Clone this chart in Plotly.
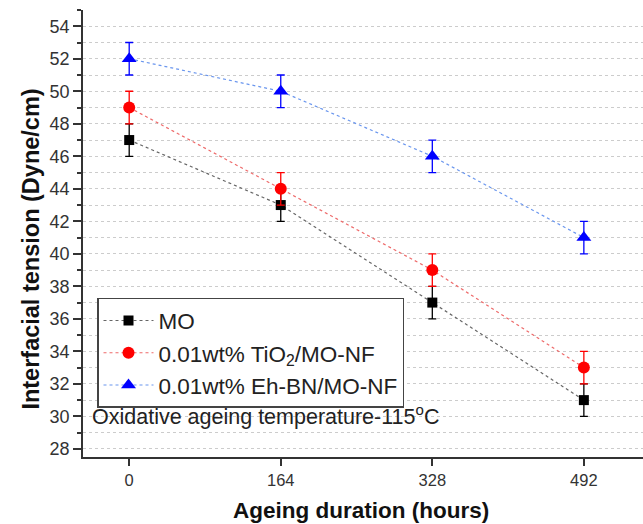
import plotly.graph_objects as go

# Ageing durations (hours)
hours = [0, 164, 328, 492]

# Interfacial tension (Dyne/cm) for each oil sample
mo = [47, 43, 37, 31]
tio2 = [49, 44, 39, 33]
ehbn = [52, 50, 46, 41]

# Error bar half-widths
mo_err = [1, 1, 1, 1]
tio2_err = [1, 1, 1, 1]
ehbn_err = [1, 1, 1, 1]

x_ticks = [0, 164, 328, 492]
y_ticks = list(range(28, 55, 2))

series = [
    ("MO", mo, mo_err, "#000000", "#666666", "square", 10),
    ("0.01wt% TiO<sub>2</sub>/MO-NF", tio2, tio2_err, "#ff0000", "#ee6a6a", "circle", 12),
    ("0.01wt% Eh-BN/MO-NF", ehbn, ehbn_err, "#0000ff", "#6a96ee", "triangle-up", 13),
]

fig = go.Figure()
for name, vals, err, mcol, lcol, sym, size in series:
    fig.add_trace(go.Scatter(
        x=hours, y=vals, name=name, mode="lines+markers",
        line=dict(color=lcol, width=1.2, dash="dot"),
        marker=dict(symbol=sym, size=size, color=mcol, line=dict(width=0)),
        error_y=dict(type="data", array=err, visible=True,
                     color=mcol, thickness=1.3, width=4),
    ))

font_family = "Arial, Liberation Sans, sans-serif"

fig.update_layout(
    width=643, height=524,
    margin=dict(l=83, r=0, t=10, b=67),
    paper_bgcolor="white", plot_bgcolor="white",
    font=dict(family=font_family, color="#222222"),
    showlegend=True,
    legend=dict(
        x=0.025, y=0.356, xanchor="left", yanchor="top",
        bgcolor="white", bordercolor="#444444", borderwidth=1.5,
        font=dict(size=22.5, color="#222222", family=font_family),
        itemwidth=50, tracegroupgap=0,
    ),
    xaxis=dict(
        range=[-50, 556], tickvals=x_ticks, ticktext=[str(v) for v in x_ticks],
        showgrid=False, zeroline=False,
        showline=True, linecolor="#333333", linewidth=1.5,
        ticks="outside", ticklen=7, tickwidth=1.5, tickcolor="#333333",
        tickfont=dict(size=16.5, color="#333333"),
    ),
    yaxis=dict(
        range=[27.5, 55], tickvals=y_ticks,
        showgrid=False, zeroline=False,
        showline=True, linecolor="#333333", linewidth=1.5,
        ticks="outside", ticklen=8, tickwidth=1.5, tickcolor="#333333",
        tickfont=dict(size=18, color="#333333"),
        minor=dict(dtick=1, tick0=0, ticks="outside", ticklen=4,
                   tickwidth=1.5, tickcolor="#333333",
                   showgrid=True, gridcolor="#cccccc", gridwidth=1.2,
                   griddash="dot"),
    ),
    annotations=[
        dict(
            text="Oxidative ageing temperature-115<sup>o</sup>C",
            xref="paper", yref="y", x=0.012, y=30.1,
            xanchor="left", yanchor="middle", showarrow=False,
            font=dict(size=21.5, color="#222222", family=font_family),
        ),
        # axis titles
        dict(
            text="<b>Ageing duration (hours)</b>",
            xref="paper", yref="paper", x=0.497, y=-0.1186,
            xanchor="center", yanchor="middle", showarrow=False,
            font=dict(size=22.5, color="#111111", family=font_family),
        ),
        dict(
            text="<b>Interfacial tension (Dyne/cm)</b>",
            xref="paper", yref="paper", x=-0.093, y=0.466,
            xanchor="center", yanchor="middle", showarrow=False,
            textangle=-90,
            font=dict(size=23.5, color="#111111", family=font_family),
        ),
    ],
)

fig.write_html("out.html")
